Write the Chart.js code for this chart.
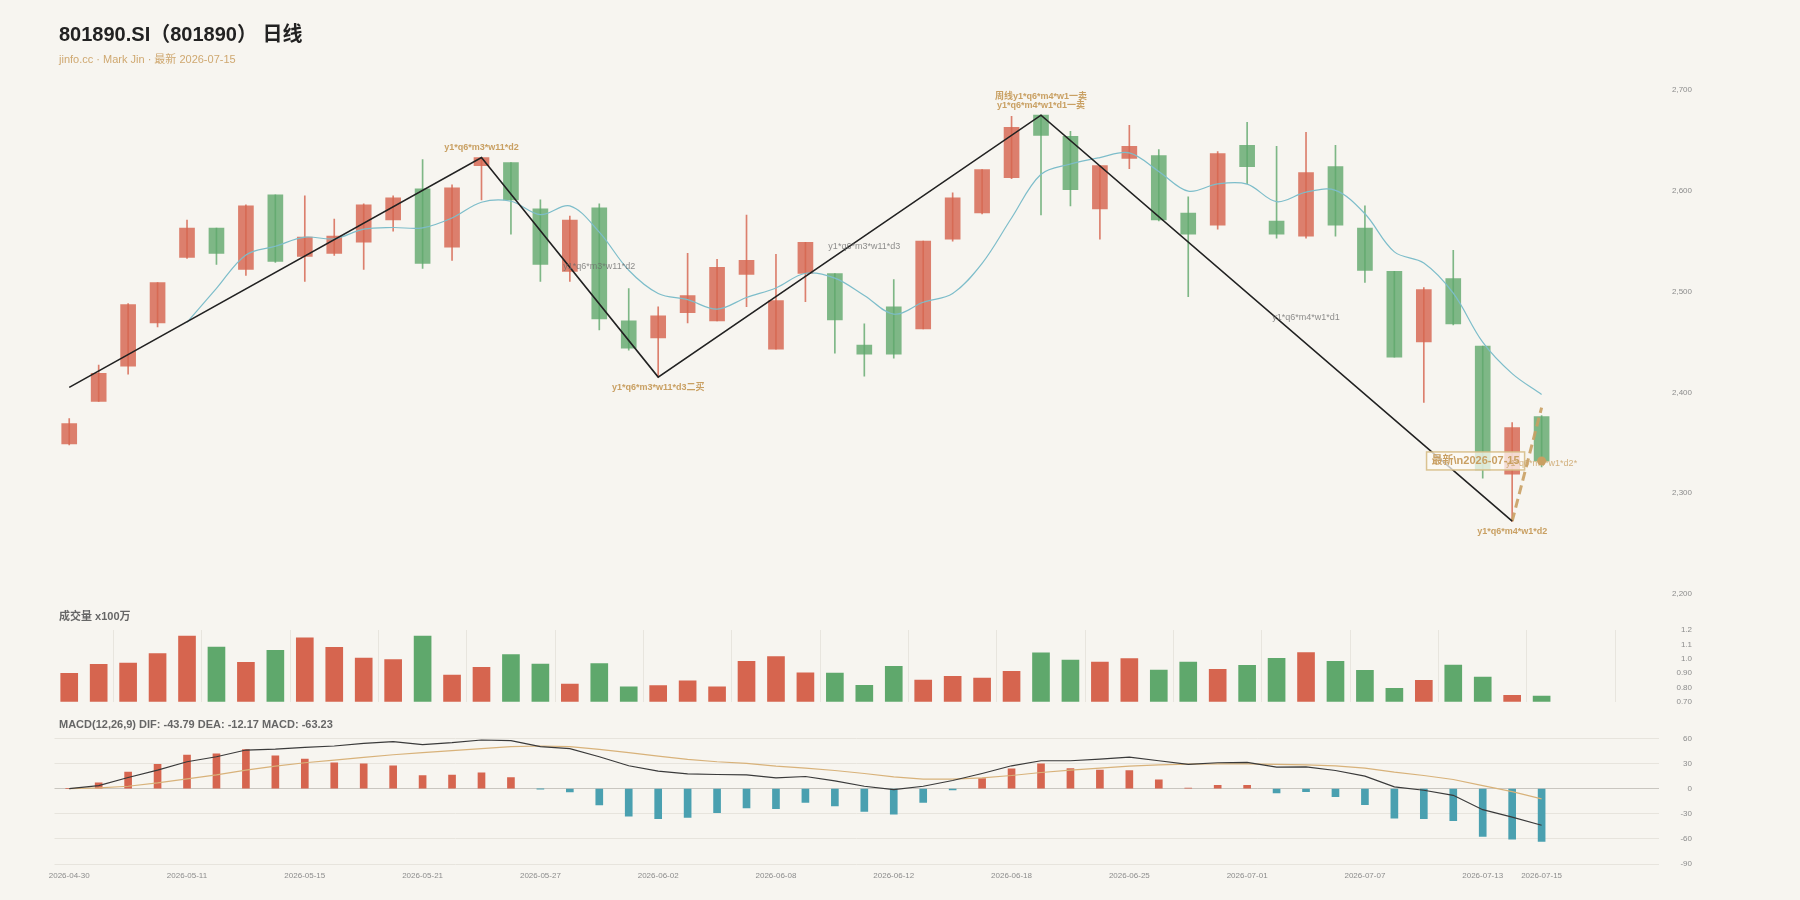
<!DOCTYPE html>
<html>
<head>
<meta charset="utf-8">
<script src="https://cdn.jsdelivr.net/npm/chart.js@4.4.1/dist/chart.umd.min.js"></script>
<style>
html, body { margin: 0; padding: 0; background: #f7f5f0; }
#wrap { position: relative; width: 1800px; height: 900px; overflow: hidden;
  font-family: "Liberation Sans", Arial, "Noto Sans CJK SC", sans-serif; }
canvas { position: absolute; left: 0; }
.txt { position: absolute; left: 59px; white-space: nowrap; }
#title { top: 24px; font-size: 20px; line-height: 20px; font-weight: bold; color: #222; }
#sub { top: 54px; font-size: 11px; line-height: 11px; color: #cfa870; }
#volLabel { top: 611px; font-size: 11px; line-height: 11px; font-weight: bold; color: #666; }
#macdLabel { top: 719px; font-size: 11px; line-height: 11px; font-weight: bold; color: #666; }
</style>
</head>
<body>
<div id="wrap">
  <canvas id="kline" width="1800" height="610" style="top:0"></canvas>
  <canvas id="vol" width="1800" height="110" style="top:610px"></canvas>
  <canvas id="macd" width="1800" height="180" style="top:720px"></canvas>
  <div class="txt" id="title">801890.SI（801890） 日线</div>
  <div class="txt" id="sub">jinfo.cc · Mark Jin · 最新 2026-07-15</div>
  <div class="txt" id="volLabel">成交量 x100万</div>
  <div class="txt" id="macdLabel">MACD(12,26,9) DIF: -43.79 DEA: -12.17 MACD: -63.23</div>
</div>
<script>
// Daily bars
const dates = ['2026-04-30','2026-05-06','2026-05-07','2026-05-08','2026-05-11','2026-05-12','2026-05-13','2026-05-14','2026-05-15','2026-05-18',
  '2026-05-19','2026-05-20','2026-05-21','2026-05-22','2026-05-25','2026-05-26','2026-05-27','2026-05-28','2026-05-29','2026-06-01',
  '2026-06-02','2026-06-03','2026-06-04','2026-06-05','2026-06-08','2026-06-09','2026-06-10','2026-06-11','2026-06-12','2026-06-15',
  '2026-06-16','2026-06-17','2026-06-18','2026-06-22','2026-06-23','2026-06-24','2026-06-25','2026-06-26','2026-06-29','2026-06-30',
  '2026-07-01','2026-07-02','2026-07-03','2026-07-06','2026-07-07','2026-07-08','2026-07-09','2026-07-10','2026-07-13','2026-07-14','2026-07-15'];

const opens = [2349, 2391, 2426, 2469, 2534, 2563, 2522, 2596, 2535, 2538,
  2549, 2571, 2602, 2544, 2625, 2628, 2582, 2520, 2583, 2471,
  2454, 2479, 2471, 2517, 2443, 2518, 2518, 2447, 2485, 2463,
  2552, 2578, 2613, 2675, 2654, 2582, 2632, 2635, 2578, 2566,
  2645, 2570, 2555, 2624, 2563, 2520, 2450, 2513, 2446, 2319, 2376];
const closes = [2369, 2419, 2487, 2509, 2563, 2538, 2585, 2530, 2554, 2555,
  2586, 2593, 2528, 2603, 2633, 2591, 2527, 2571, 2473, 2444,
  2476, 2496, 2524, 2531, 2491, 2549, 2472, 2438, 2438, 2550,
  2593, 2621, 2663, 2655, 2601, 2625, 2644, 2571, 2557, 2637,
  2624, 2557, 2618, 2566, 2521, 2435, 2502, 2468, 2323, 2365, 2332];
const highs = [2374, 2427, 2488, 2509, 2571, 2563, 2586, 2596, 2595, 2572,
  2587, 2595, 2631, 2606, 2633, 2628, 2591, 2575, 2587, 2503,
  2485, 2538, 2532, 2576, 2537, 2549, 2518, 2468, 2512, 2550,
  2598, 2621, 2674, 2675, 2659, 2625, 2665, 2641, 2594, 2639,
  2668, 2644, 2658, 2645, 2585, 2520, 2504, 2541, 2446, 2370, 2377];
const lows = [2348, 2391, 2418, 2465, 2533, 2527, 2516, 2529, 2510, 2536,
  2522, 2560, 2523, 2531, 2591, 2557, 2510, 2510, 2462, 2442,
  2415, 2469, 2471, 2485, 2443, 2490, 2439, 2416, 2434, 2463,
  2550, 2577, 2612, 2576, 2585, 2552, 2622, 2570, 2495, 2562,
  2607, 2553, 2553, 2555, 2509, 2435, 2390, 2467, 2315, 2272, 2326];
const ma5 = [null, null, null, null, 2469.4, 2503.2, 2536.4, 2545, 2554, 2552.4,
  2562, 2563.6, 2563.2, 2573, 2588.6, 2589.6, 2576.4, 2585, 2559, 2521.2,
  2498.2, 2492, 2482.6, 2494.2, 2503.6, 2518.2, 2513.4, 2496.2, 2477.6, 2489.4,
  2498.2, 2528, 2573, 2616.4, 2626.6, 2633, 2637.6, 2619.2, 2599.6, 2606.8,
  2606.6, 2589.2, 2598.6, 2600.4, 2577.2, 2539.4, 2528.4, 2498.4, 2449.8, 2418.6, 2398];

// Volume, x100万
const volumes = [0.898, 0.961, 0.970, 1.035, 1.158, 1.081, 0.975, 1.058, 1.146, 1.079,
  1.005, 0.993, 1.158, 0.886, 0.940, 1.028, 0.963, 0.823, 0.965, 0.803,
  0.812, 0.846, 0.803, 0.982, 1.014, 0.902, 0.900, 0.814, 0.947, 0.851,
  0.877, 0.865, 0.912, 1.040, 0.991, 0.977, 1.000, 0.921, 0.977, 0.926,
  0.954, 1.003, 1.042, 0.982, 0.919, 0.793, 0.849, 0.956, 0.872, 0.745, 0.740];

// MACD(12,26,9)
const difs = [0, 3.6, 13.2, 22, 32, 38, 46, 47.2, 49.2, 50.8,
  54, 56, 52.4, 54.8, 58, 57.2, 50, 47.6, 38, 27.2,
  20.8, 17.6, 16.8, 16.4, 12.8, 14.4, 9.2, 2.8, -1.2, 2.8,
  9.6, 18, 27.2, 33.2, 33.2, 35.2, 37.6, 33.2, 28.8, 30.8,
  31.2, 25.6, 26, 21.6, 14.8, 2, -2, -8, -25.2, -34, -43.8];
const deas = [0, 0.8, 2.8, 6.8, 11.6, 16.4, 22, 26.8, 30.8, 34,
  37.2, 40.4, 42.8, 45.2, 47.6, 50, 50.8, 50, 46.8, 42.8,
  38.8, 34.8, 32, 30, 26.8, 24.4, 21.6, 18, 14, 11.2,
  11.2, 12.8, 15.6, 19.2, 22, 24.4, 26.8, 28.4, 29.2, 29.6,
  29.6, 28.8, 28.4, 27.2, 24.4, 19.6, 15.6, 10.8, 3.6, -3.6, -12.2];
const macdHist = [0, 6.8, 19.6, 28.8, 40, 41.6, 46.4, 39.2, 35.2, 30.8,
  29.6, 27.2, 15.6, 16, 18.8, 13.2, -0.4, -4, -19.6, -32.8,
  -36, -34.4, -28.8, -23.2, -24, -16.4, -20.8, -27.2, -30.4, -16.4,
  -1.6, 12, 23.6, 29.6, 24, 22, 21.6, 10.4, 0.4, 4,
  4, -5.2, -3.6, -9.6, -19.2, -35.2, -36, -38.4, -57.2, -60.4, -63.2];

// Zigzag pivots and their notes
const pivotIdx = [0, 14, 20, 33, 49];
const pivotVal = [2405, 2633, 2415.2, 2675, 2272.2];
const pivotNotes = [null, ['y1*q6*m3*w11*d2'], ['y1*q6*m3*w11*d3二买'], ['周线y1*q6*m4*w1一卖', 'y1*q6*m4*w1*d1一卖'], ['y1*q6*m4*w1*d2']];
const segNotes = ['y1*q6*m3*w11*d2', 'y1*q6*m3*w11*d3', 'y1*q6*m4*w1*d1'];
const segNoteIdx = [18, 27, 42];
const segNoteVal = [2525, 2545, 2474];
const projIdx = [49, 50];
const projVal = [2272.2, 2385];
const lastNote = 'y1*q6*m4*w1*d2*';
const latestTag = '最新\\n2026-07-15';

// tick positions
const xTickIdx = [0, 4, 8, 12, 16, 20, 24, 28, 32, 36, 40, 44, 48, 50];
const volGridIdx = [0, 3, 6, 9, 12, 15, 18, 21, 24, 27, 30, 33, 36, 39, 42, 45, 48, 51, 54];

const FONT = '"Liberation Sans", Arial, "Noto Sans CJK SC", sans-serif';
const GOLD = '#c9a063';
const UP = 'rgba(214,101,79,0.82)';
const DOWN = 'rgba(95,168,108,0.8)';
const UP_SOLID = '#d6654f';
const DOWN_SOLID = '#5fa86c';
const X_MIN = -0.5, X_MAX = 54;
const PAD_LEFT = 54.5, PAD_RIGHT = 108, AXIS_W = 32.6;

Chart.defaults.font.family = FONT;
Chart.defaults.animation = false;
Chart.defaults.plugins.legend.display = false;
Chart.defaults.plugins.tooltip.enabled = false;

const last = dates.length - 1;
const candleColors = closes.map((c, i) => c >= opens[i] ? UP : DOWN);
const volColors = closes.map((c, i) => c >= opens[i] ? UP_SOLID : DOWN_SOLID);

// right-hand value axis, labels right-aligned near x=1692
function rightAxis(min, max, step, pad, fmt, grid) {
    return {
        position: 'right', min: min, max: max,
        grid: grid || { display: false, drawTicks: false },
        border: { display: false },
        ticks: { stepSize: step, padding: pad, crossAlign: 'far', color: '#8c8c8c', font: { size: 8 }, callback: fmt },
        afterFit: function(s) {
            s.width = AXIS_W;
            // tick padding must not push the plot area down
            s.paddingTop = 0;
            s.paddingBottom = 0;
        }
    };
}

// Text marks on the price panel
const notesPlugin = {
    id: 'notes',
    afterDatasetsDraw(chart) {
        const ctx = chart.ctx;
        const x = chart.scales.x, y = chart.scales.y;
        ctx.save();
        ctx.textAlign = 'center';
        ctx.textBaseline = 'middle';

        // pivot notes
        ctx.font = 'bold 9px ' + FONT;
        ctx.fillStyle = GOLD;
        pivotIdx.forEach((idx, k) => {
            const lines = pivotNotes[k];
            if (!lines) return;
            const px = x.getPixelForValue(idx);
            const py = y.getPixelForValue(pivotVal[k]);
            const isHigh = pivotVal[k] > pivotVal[k - 1];
            lines.forEach((t, j) => {
                const off = isHigh ? -10 - (lines.length - 1 - j) * 9 : 10 + j * 9;
                ctx.fillText(t, px, py + off);
            });
        });

        // segment notes
        ctx.font = '9px ' + FONT;
        ctx.fillStyle = 'rgba(105,105,105,0.75)';
        segNotes.forEach((t, k) => {
            ctx.fillText(t, x.getPixelForValue(segNoteIdx[k]), y.getPixelForValue(segNoteVal[k]));
        });

        // latest tag box
        const lx = x.getPixelForValue(last);
        const ly = y.getPixelForValue(closes[last]);
        ctx.font = 'bold 11px ' + FONT;
        const w = ctx.measureText(latestTag).width + 10;
        const h = 18;
        const right = lx - 17;
        ctx.fillStyle = 'rgba(252,250,244,0.75)';
        ctx.fillRect(right - w, ly - h / 2, w, h);
        ctx.strokeStyle = 'rgba(214,188,134,0.9)';
        ctx.lineWidth = 1.5;
        ctx.strokeRect(right - w, ly - h / 2, w, h);
        ctx.fillStyle = GOLD;
        ctx.fillText(latestTag, right - w / 2, ly + 0.5);

        // projected note on last bar
        ctx.font = '9px ' + FONT;
        ctx.fillStyle = 'rgba(201,160,99,0.8)';
        ctx.fillText(lastNote, lx, ly + 2.5);
        ctx.restore();
    }
};

new Chart(document.getElementById('kline'), {
    type: 'bar',
    data: {
        datasets: [
            {
                type: 'line', order: 0,
                data: pivotIdx.map((v, i) => ({ x: v, y: pivotVal[i] })),
                borderColor: '#222', borderWidth: 1.6, pointRadius: 0
            },
            {
                type: 'line', order: 0,
                data: projIdx.map((v, i) => ({ x: v, y: projVal[i] })),
                borderColor: 'rgba(201,160,99,0.9)', borderWidth: 3, borderDash: [9, 5], pointRadius: 0
            },
            {
                type: 'line', order: 0, showLine: false,
                data: [{ x: last, y: closes[last] }],
                pointRadius: 4.5, pointBackgroundColor: GOLD, pointBorderWidth: 0
            },
            {
                type: 'line', order: 1,
                data: ma5.map((v, i) => ({ x: i, y: v })),
                borderColor: '#7dbdca', borderWidth: 1.2, pointRadius: 0, tension: 0.35
            },
            {
                type: 'bar', order: 2, grouped: false,
                data: opens.map((o, i) => ({ x: i, y: [o, closes[i]] })),
                backgroundColor: candleColors, barThickness: 15, borderWidth: 0
            },
            {
                type: 'bar', order: 3, grouped: false,
                data: lows.map((l, i) => ({ x: i, y: [l, highs[i]] })),
                backgroundColor: candleColors, barThickness: 1, borderWidth: 0
            }
        ]
    },
    options: {
        responsive: false,
        layout: { padding: { left: PAD_LEFT, right: PAD_RIGHT, top: 90, bottom: 16 } },
        scales: {
            x: { type: 'linear', min: X_MIN, max: X_MAX, offset: false, display: false },
            y: rightAxis(2200, 2700, 100, 12.6, v => v.toLocaleString('en-US'))
        }
    },
    plugins: [notesPlugin]
});

new Chart(document.getElementById('vol'), {
    type: 'bar',
    data: {
        datasets: [{
            data: volumes.map((v, i) => ({ x: i, y: v })),
            backgroundColor: volColors, barThickness: 17, base: 0.7, borderWidth: 0
        }]
    },
    options: {
        responsive: false,
        layout: { padding: { left: PAD_LEFT, right: PAD_RIGHT, top: 20, bottom: 18.3 } },
        scales: {
            x: {
                type: 'linear', min: X_MIN, max: X_MAX, offset: false,
                grid: { color: '#e8e5de', drawTicks: false },
                border: { display: false },
                ticks: { display: false },
                afterBuildTicks: s => { s.ticks = volGridIdx.map(v => ({ value: v })); },
                afterFit: s => { s.height = 0; }
            },
            y: rightAxis(0.7, 1.2, 0.1, 17, v => v >= 0.999 ? v.toFixed(1) : v.toFixed(2))
        }
    }
});

new Chart(document.getElementById('macd'), {
    type: 'bar',
    data: {
        datasets: [
            {
                type: 'line', order: 0,
                data: difs.map((v, i) => ({ x: i, y: v })),
                borderColor: '#3a3a3a', borderWidth: 1.2, pointRadius: 0
            },
            {
                type: 'line', order: 0,
                data: deas.map((v, i) => ({ x: i, y: v })),
                borderColor: '#d8b27a', borderWidth: 1.2, pointRadius: 0
            },
            {
                type: 'bar', order: 1,
                data: macdHist.map((v, i) => ({ x: i, y: v })),
                backgroundColor: macdHist.map(v => v >= 0 ? '#d6654f' : '#4aa0b0'),
                barThickness: 7, borderWidth: 0
            }
        ]
    },
    options: {
        responsive: false,
        layout: { padding: { left: PAD_LEFT, right: PAD_RIGHT, top: 18.3, bottom: 0 } },
        scales: {
            x: {
                type: 'linear', min: X_MIN, max: X_MAX, offset: false,
                grid: { display: false, drawTicks: false },
                border: { display: false },
                ticks: { color: '#8c8c8c', font: { size: 8 }, padding: 7, autoSkip: false, maxRotation: 0,
                    callback: v => dates[v] },
                afterBuildTicks: s => { s.ticks = xTickIdx.map(v => ({ value: v })); },
                afterFit: s => { s.height = 36; }
            },
            y: rightAxis(-90, 60, 30, 21, v => v,
                { color: c => c.tick && c.tick.value === 0 ? '#c9c6c0' : '#e7e4dd', drawTicks: false })
        }
    }
});
</script>
</body>
</html>
